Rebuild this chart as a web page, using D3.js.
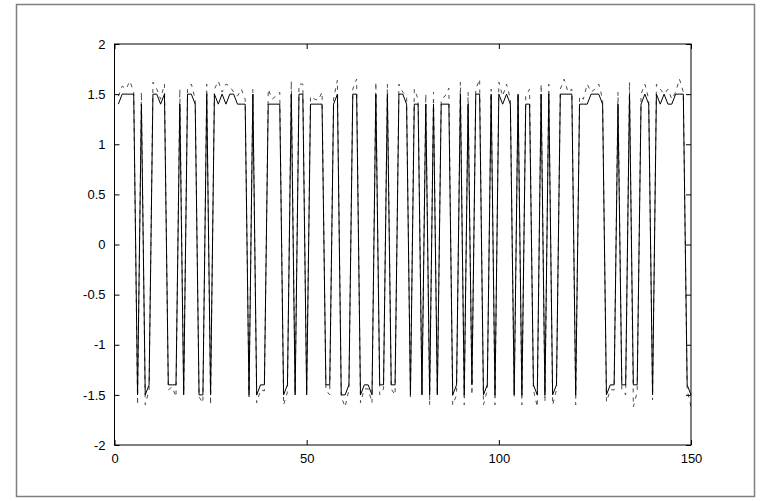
<!DOCTYPE html>
<html>
<head>
<meta charset="utf-8">
<script src="https://cdn.jsdelivr.net/npm/d3@7/dist/d3.min.js"></script>
<style>
  body { margin: 0; background: #ffffff; }
  svg { display: block; }
  .tickText { font-family: "Liberation Sans", Arial, sans-serif; font-size: 13px; fill: #000; }
</style>
</head>
<body>
<div id="chart"></div>
<script>
//Solid trace (decided symbols), one value per sample 1..150
var solidValues = [
  1.4, 1.5, 1.5, 1.5, 1.5, -1.5, 1.4, -1.5, -1.4, 1.5,
  1.5, 1.4, 1.5, -1.4, -1.4, -1.4, 1.4, -1.5, 1.5, 1.5,
  1.4, -1.5, -1.5, 1.5, -1.5, 1.5, 1.4, 1.5, 1.4, 1.5,
  1.5, 1.4, 1.4, 1.4, -1.5, 1.5, -1.5, -1.4, -1.4, 1.4,
  1.4, 1.4, 1.4, -1.5, -1.4, 1.5, -1.5, 1.5, 1.5, -1.5,
  1.4, 1.4, 1.4, 1.4, -1.4, -1.4, 1.4, 1.5, -1.5, -1.5,
  -1.4, 1.5, 1.5, -1.5, -1.4, -1.4, -1.5, 1.5, -1.4, -1.4,
  1.5, -1.4, -1.4, 1.5, 1.5, 1.4, -1.5, 1.4, 1.4, -1.5,
  1.4, -1.5, 1.4, -1.5, 1.4, 1.4, 1.4, -1.5, -1.4, 1.5,
  -1.5, 1.4, -1.4, 1.5, 1.5, -1.5, -1.4, 1.5, -1.5, 1.5,
  1.4, 1.5, 1.4, -1.5, 1.5, -1.5, 1.4, 1.4, -1.4, -1.5,
  1.5, -1.5, 1.5, -1.5, -1.4, 1.5, 1.5, 1.5, 1.5, -1.5,
  1.4, 1.4, 1.4, 1.5, 1.5, 1.5, 1.4, -1.5, -1.4, -1.4,
  1.4, -1.4, -1.4, 1.5, -1.4, -1.4, 1.4, 1.5, 1.4, -1.5,
  1.5, 1.4, 1.5, 1.4, 1.4, 1.5, 1.5, 1.5, -1.4, -1.5
];
//Dashed trace (noisy samples)
var dashedValues = [
  1.48, 1.58, 1.55, 1.63, 1.52, -1.6, 1.52, -1.6, -1.45, 1.62,
  1.55, 1.45, 1.6, -1.45, -1.42, -1.52, 1.55, -1.48, 1.55, 1.6,
  1.45, -1.52, -1.58, 1.6, -1.6, 1.55, 1.63, 1.52, 1.6, 1.58,
  1.52, 1.48, 1.55, 1.45, -1.52, 1.55, -1.58, -1.45, -1.46, 1.55,
  1.45, 1.48, 1.52, -1.6, -1.47, 1.63, -1.48, 1.6, 1.6, -1.48,
  1.48, 1.45, 1.44, 1.52, -1.45, -1.5, 1.45, 1.64, -1.52, -1.62,
  -1.45, 1.55, 1.65, -1.58, -1.44, -1.44, -1.58, 1.62, -1.5, -1.44,
  1.6, -1.44, -1.5, 1.6, 1.52, 1.48, -1.52, 1.55, 1.45, -1.5,
  1.5, -1.6, 1.52, -1.5, 1.45, 1.48, 1.56, -1.6, -1.5, 1.62,
  -1.6, 1.52, -1.5, 1.55, 1.65, -1.6, -1.45, 1.55, -1.6, 1.62,
  1.48, 1.6, 1.45, -1.52, 1.5, -1.6, 1.48, 1.55, -1.45, -1.62,
  1.6, -1.57, 1.6, -1.6, -1.45, 1.55, 1.65, 1.52, 1.55, -1.6,
  1.48, 1.45, 1.6, 1.52, 1.55, 1.6, 1.45, -1.57, -1.45, -1.45,
  1.52, -1.45, -1.5, 1.62, -1.62, -1.47, 1.5, 1.6, 1.45, -1.55,
  1.6, 1.55, 1.5, 1.55, 1.45, 1.52, 1.65, 1.52, -1.45, -1.62
];
var xTicks = [0, 50, 100, 150];
var yTicks = [-2, -1.5, -1, -0.5, 0, 0.5, 1, 1.5, 2];

var width = 768;
var height = 501;
var plot = { left: 114.5, right: 691, top: 44, bottom: 445 };
var tickLen = 5;

var svg = d3.select("#chart")
    .append("svg")
    .attr("width", width)
    .attr("height", height);

//Figure frame
svg.append("rect")
    .attr("x", 16.5)
    .attr("y", 4.5)
    .attr("width", 738)
    .attr("height", 492)
    .attr("fill", "#ffffff")
    .attr("stroke", "#7f7f7f")
    .attr("stroke-width", 1.5);

var x = d3.scaleLinear().domain([0, 150]).range([plot.left, plot.right]);
var y = d3.scaleLinear().domain([-2, 2]).range([plot.bottom, plot.top]);

var line = d3.line()
    .x(function(d, i){ return x(i + 1); })
    .y(function(d){ return y(d); });

var plotArea = svg.append("g");

plotArea.append("path")
    .datum(dashedValues)
    .attr("d", line)
    .attr("fill", "none")
    .attr("stroke", "#4d4d4d")
    .attr("stroke-width", 1)
    .attr("stroke-dasharray", "4,5");

plotArea.append("path")
    .datum(solidValues)
    .attr("d", line)
    .attr("fill", "none")
    .attr("stroke", "#000000")
    .attr("stroke-width", 1);

//Axes with inward ticks on all four sides
function styleAxis(g){
    g.select(".domain").remove();
    g.selectAll(".tick line").attr("stroke", "#000");
    g.selectAll(".tick text").attr("class", "tickText");
}

svg.append("g")
    .attr("transform", "translate(0," + plot.bottom + ")")
    .call(d3.axisBottom(x).tickValues(xTicks).tickSizeInner(-tickLen).tickSizeOuter(0).tickPadding(9))
    .call(styleAxis);

svg.append("g")
    .attr("transform", "translate(0," + plot.top + ")")
    .call(d3.axisTop(x).tickValues(xTicks).tickSizeInner(-tickLen).tickSizeOuter(0).tickFormat(""))
    .call(styleAxis);

svg.append("g")
    .attr("transform", "translate(" + plot.left + ",0)")
    .call(d3.axisLeft(y).tickValues(yTicks).tickSizeInner(-tickLen).tickSizeOuter(0).tickPadding(9)
        .tickFormat(function(d){ return String(d); }))
    .call(styleAxis);

svg.append("g")
    .attr("transform", "translate(" + plot.right + ",0)")
    .call(d3.axisRight(y).tickValues(yTicks).tickSizeInner(-tickLen).tickSizeOuter(0).tickFormat(""))
    .call(styleAxis);

//Axes box
svg.append("rect")
    .attr("x", plot.left)
    .attr("y", plot.top)
    .attr("width", plot.right - plot.left)
    .attr("height", plot.bottom - plot.top)
    .attr("fill", "none")
    .attr("stroke", "#000")
    .attr("stroke-width", 1);
</script>
</body>
</html>
